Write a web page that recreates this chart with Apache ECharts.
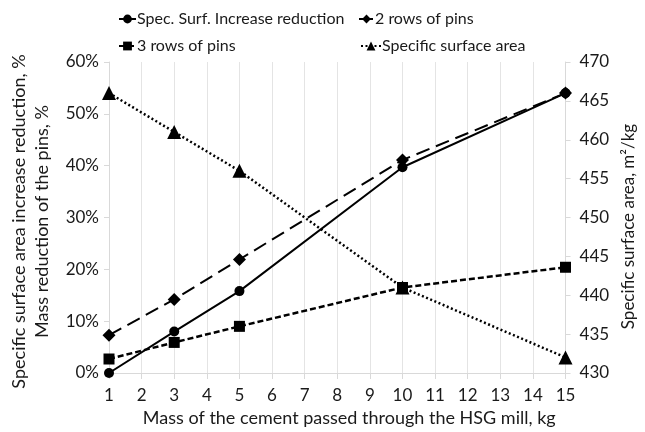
<!DOCTYPE html>
<html>
<head>
<meta charset="utf-8">
<script src="https://cdn.jsdelivr.net/npm/echarts@6/dist/echarts.min.js"></script>
<style>html,body{margin:0;padding:0;background:#fff}#c{width:645px;height:432px}</style>
</head>
<body>
<div id="c"></div>
<script>
var masses = [1, 3, 5, 10, 15];
var specSurfReduction = [0.000, 0.080, 0.158, 0.397, 0.540];
var twoRows = [0.073, 0.142, 0.219, 0.411, 0.540];
var threeRows = [0.027, 0.059, 0.090, 0.165, 0.204];
var specificSurface = [466, 461, 456, 441, 432];
var seriesNames = ['Spec. Surf. Increase reduction', '2 rows of pins', '3 rows of pins', 'Specific surface area'];

function pairs(vals) { return masses.map(function (m, i) { return [m, vals[i]]; }); }

var FONT = 'Lato';
var txt = function (fs) { return { fontFamily: FONT, fontSize: fs, color: '#1a1a1a' }; };
var grey = '#d9d9d9';

function legend(name, left, top, w) {
  return { data: [name], left: left, top: top, itemWidth: w, itemHeight: 11, itemGap: 4,
    textStyle: { fontFamily: FONT, fontSize: 16, color: '#1a1a1a', padding: [0, 0, 0, -4] } };
}

var chart = echarts.init(document.getElementById('c'));
chart.setOption({
  animation: false,
  backgroundColor: '#fff',
  legend: [
    legend(seriesNames[0], 113, 6, 17),
    legend(seriesNames[1], 353, 6, 15),
    legend(seriesNames[2], 113, 33, 17),
    legend(seriesNames[3], 355, 33, 20)
  ],
  grid: { left: 108, right: 79, top: 62, bottom: 57 },
  xAxis: {
    type: 'value', min: 1, max: 15, interval: 1,
    name: 'Mass of the cement passed through the HSG mill, kg',
    nameLocation: 'middle', nameGap: 36,
    nameTextStyle: Object.assign({ padding: [0, 0, 0, 24] }, txt(18)),
    axisLine: { show: true, lineStyle: { color: grey } },
    axisTick: { show: true, length: 6, lineStyle: { color: grey } },
    axisLabel: Object.assign({ margin: 14 }, txt(17)),
    splitLine: { show: true, lineStyle: { color: '#e4e4e4' } }
  },
  yAxis: [{
    type: 'value', min: 0, max: 0.6, interval: 0.1, position: 'left',
    name: 'Specific surface area increase reduction, %\nMass reduction of the pins, %',
    nameLocation: 'middle', nameRotate: 90, nameGap: 55,
    nameTextStyle: Object.assign({ lineHeight: 23, padding: [0, 8, 0, 0] }, txt(18)),
    axisLine: { show: true, lineStyle: { color: grey } },
    axisTick: { show: true, length: 5, lineStyle: { color: grey } },
    axisLabel: Object.assign({ margin: 10, formatter: function (v) { return Math.round(v * 100) + '%'; } }, txt(17)),
    splitLine: { show: false }
  }, {
    type: 'value', min: 430, max: 470, interval: 5, position: 'right',
    name: 'Specific surface area, m\u00b2/kg',
    nameLocation: 'middle', nameRotate: 90, nameGap: 54,
    nameTextStyle: Object.assign({ padding: [0, 18, 0, 0] }, txt(17)),
    axisLine: { show: true, lineStyle: { color: grey } },
    axisTick: { show: true, length: 5, lineStyle: { color: grey } },
    axisLabel: Object.assign({ margin: 14 }, txt(17)),
    splitLine: { show: false }
  }],
  series: [{
    name: seriesNames[0], type: 'line', yAxisIndex: 0, data: pairs(specSurfReduction),
    symbol: 'circle', symbolSize: 10, itemStyle: { color: '#000' },
    lineStyle: { color: '#000', width: 2 }
  }, {
    name: seriesNames[1], type: 'line', yAxisIndex: 0, data: pairs(twoRows),
    symbol: 'diamond', symbolSize: 13, itemStyle: { color: '#000' },
    lineStyle: { color: '#000', width: 2, type: [14, 7] }
  }, {
    name: seriesNames[2], type: 'line', yAxisIndex: 0, data: pairs(threeRows),
    symbol: 'rect', symbolSize: 11, itemStyle: { color: '#000' },
    lineStyle: { color: '#000', width: 2.5, type: [6, 3] }
  }, {
    name: seriesNames[3], type: 'line', yAxisIndex: 1, data: pairs(specificSurface),
    symbol: 'triangle', symbolSize: 14, itemStyle: { color: '#000' },
    lineStyle: { color: '#000', width: 2.5, type: [2, 2.5] }
  }]
});
</script>
</body>
</html>
